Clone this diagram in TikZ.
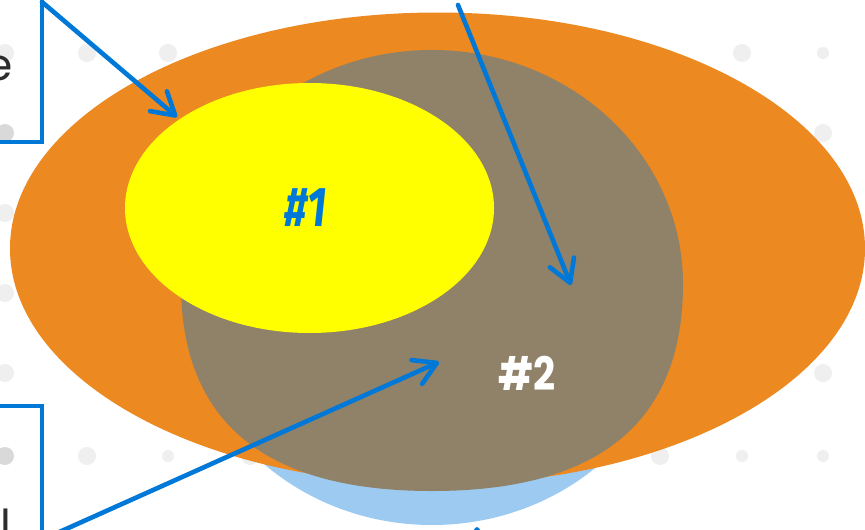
\documentclass[tikz,border=0pt]{standalone}
\usepackage{fontspec}
\newfontfamily\popfont{Poppins}
\newfontfamily\firafont{Fira Sans}
\usetikzlibrary{arrows.meta}
\definecolor{cOrange}{RGB}{236,137,32}
\definecolor{cGray}{RGB}{143,130,104}
\definecolor{cYellow}{RGB}{255,255,0}
\definecolor{cLBlue}{RGB}{157,202,240}
\definecolor{cBlue}{RGB}{0,120,215}
\definecolor{cDot}{RGB}{239,239,239}
\definecolor{cDotDark}{RGB}{217,217,217}
\definecolor{cText}{RGB}{45,45,45}
\begin{document}
\begin{tikzpicture}[x=1pt,y=-1pt,
  bigdot/.style={fill=cDot},
  smalldot/.style={fill=cDot},
  darkdot/.style={fill=cDotDark},
  callout/.style={draw=cBlue,line width=4pt,outer sep=0pt,inner sep=0pt},
  pointer/.style={draw=cBlue,line width=4.6pt,line cap=round,
    -{Straight Barb[length=22pt,width=26pt,line cap=round,line join=round]}}]
\useasboundingbox (0,0) rectangle (865,530);
\clip (0,0) rectangle (865,530);
\fill[white] (0,0) rectangle (865,530);
% background dots
\foreach \p in {(5,53),(87,53),(168,53),(742,53),(823,133),(5,213),(5,293),(5,373),(823,213),(823,293),(823,373),(87,456),(250,456),(660,456)}
  \fill[bigdot] \p circle[radius=9];
\foreach \p in {(823,53),(168,456),(742,456),(823,456)}
  \fill[smalldot] \p circle[radius=6];
\foreach \p in {(5,133),(5,456)}
  \fill[darkdot] \p circle[radius=9];
% shapes
\fill[cLBlue] (432,290) ellipse[x radius=250,y radius=235];
\fill[cOrange] (437.5,248.5) ellipse[x radius=427.5,y radius=236];
\fill[cGray] (432,50) .. controls (571,50) and (683,155) .. (683,284)
  .. controls (683,423) and (598,491) .. (432,491)
  .. controls (266,491) and (181,423) .. (181,284)
  .. controls (181,155) and (293,50) .. (432,50) -- cycle;
\fill[cYellow] (309.5,208) ellipse[x radius=184.5,y radius=125];
% labels
\node[text=cBlue,font=\firafont\bfseries\itshape\fontsize{56}{56}\selectfont,xscale=0.76] (t1) at (306,208) {\#1};
\node[text=white,font=\popfont\bfseries\fontsize{46}{46}\selectfont,xscale=0.84] (t2) at (527,373) {\#2};
% callout boxes
\node[callout,minimum width=240pt,minimum height=200pt,anchor=south east] (box1) at (41.5,142) {};
\node[callout,minimum width=240pt,minimum height=200pt,anchor=north east] (box2) at (41.5,405.7) {};
\node[anchor=base east,inner sep=0pt,text=cText,font=\popfont\fontsize{44}{44}\selectfont] (te) at (13,80) {e};
\node[anchor=base west,inner sep=0pt,text=cText,font=\popfont\fontsize{44}{44}\selectfont] (tl) at (0.5,541) {l};
% arrows
\coordinate (a1s) at (42,2);
\coordinate (a1e) at (177,117);
\coordinate (a2s) at (458,5);
\coordinate (a2e) at (571,285);
\coordinate (a3s) at (41.5,540);
\coordinate (a3e) at (439,362);
\coordinate (a4s) at (477,620);
\coordinate (a4e) at (477,527);
\draw[pointer] (a1s) -- (a1e);
\draw[pointer] (a2s) -- (a2e);
\draw[pointer] (a3s) -- (a3e);
\draw[pointer] (a4s) -- (a4e);
\end{tikzpicture}
\end{document}
